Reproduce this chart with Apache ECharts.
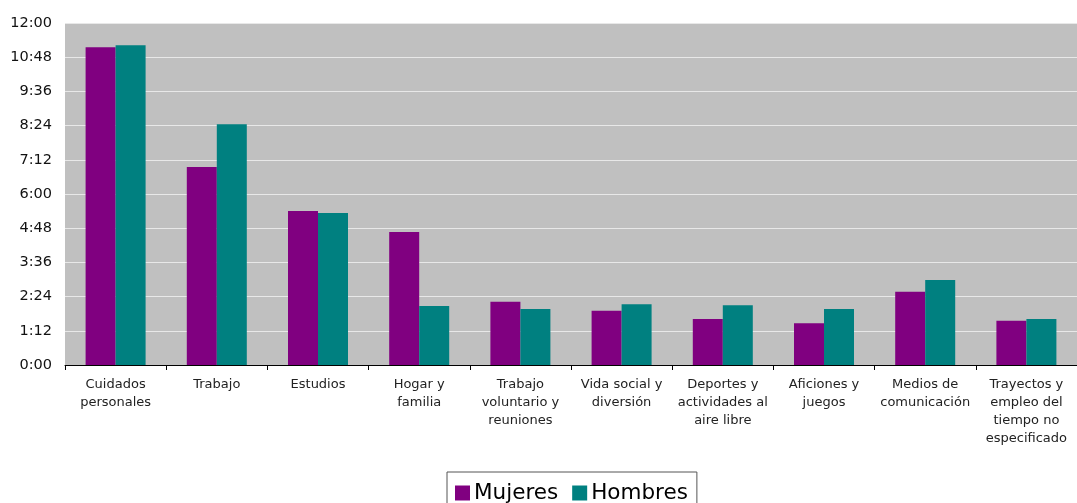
<!DOCTYPE html>
<html>
<head>
<meta charset="utf-8">
<script src="https://cdn.jsdelivr.net/npm/echarts@6/dist/echarts.min.js"></script>
<style>
html,body{margin:0;padding:0;background:#fff;}
#c{width:1077px;height:503px;}
</style>
</head>
<body>
<div id="c"></div>
<script>
// Categories (tick labels)
var categories = [
  'Cuidados\npersonales',
  'Trabajo',
  'Estudios',
  'Hogar y\nfamilia',
  'Trabajo\nvoluntario y\nreuniones',
  'Vida social y\ndiversión',
  'Deportes y\nactividades al\naire libre',
  'Aficiones y\njuegos',
  'Medios de\ncomunicación',
  'Trayectos y\nempleo del\ntiempo no\nespecificado'
];
// Values in minutes
var mujeres = [669, 417, 324, 280, 133, 114, 97, 88, 154, 93];
var hombres = [673, 507, 320, 124, 118, 128, 126, 118, 179, 97];
var seriesNames = ['Mujeres', 'Hombres'];

function fmt(v) {
  var h = Math.floor(v / 60), m = Math.round(v - h * 60);
  return h + ':' + (m < 10 ? '0' + m : m);
}

var chart = echarts.init(document.getElementById('c'));
chart.setOption({
  animation: false,
  textStyle: { fontFamily: 'DejaVu Sans' },
  grid: {
    left: 65, right: 0, top: 23, bottom: 138,
    show: true, backgroundColor: '#C0C0C0', borderWidth: 0
  },
  legend: {
    data: seriesNames,
    top: 472,
    left: 447,
    padding: [10, 9, 10, 8],
    borderColor: '#555',
    borderWidth: 1,
    itemWidth: 15,
    itemHeight: 15,
    itemGap: 14,
    icon: 'rect',
    textStyle: { fontSize: 21.5, color: '#000', fontFamily: 'DejaVu Sans', padding: [0, 0, 0, -1] }
  },
  xAxis: {
    type: 'category',
    data: categories,
    axisLine: { show: true, lineStyle: { color: '#000', width: 1 } },
    axisTick: { show: true, length: 5, lineStyle: { color: '#000' } },
    axisLabel: {
      interval: 0, margin: 11, fontSize: 13, lineHeight: 18,
      color: '#222', fontFamily: 'DejaVu Sans'
    }
  },
  yAxis: {
    type: 'value',
    min: 0, max: 720, interval: 72,
    axisLine: { show: false },
    axisTick: { show: false },
    splitLine: { show: true, lineStyle: { color: '#E8E8E8', width: 1 } },
    axisLabel: {
      formatter: fmt, fontSize: 14.5, color: '#111', margin: 13,
      fontFamily: 'DejaVu Sans'
    }
  },
  series: [
    { name: seriesNames[0], type: 'bar', data: mujeres, barWidth: 30, barGap: '0%',
      itemStyle: { color: '#800080' } },
    { name: seriesNames[1], type: 'bar', data: hombres, barWidth: 30, barGap: '0%',
      itemStyle: { color: '#008080' } }
  ]
});
</script>
</body>
</html>
